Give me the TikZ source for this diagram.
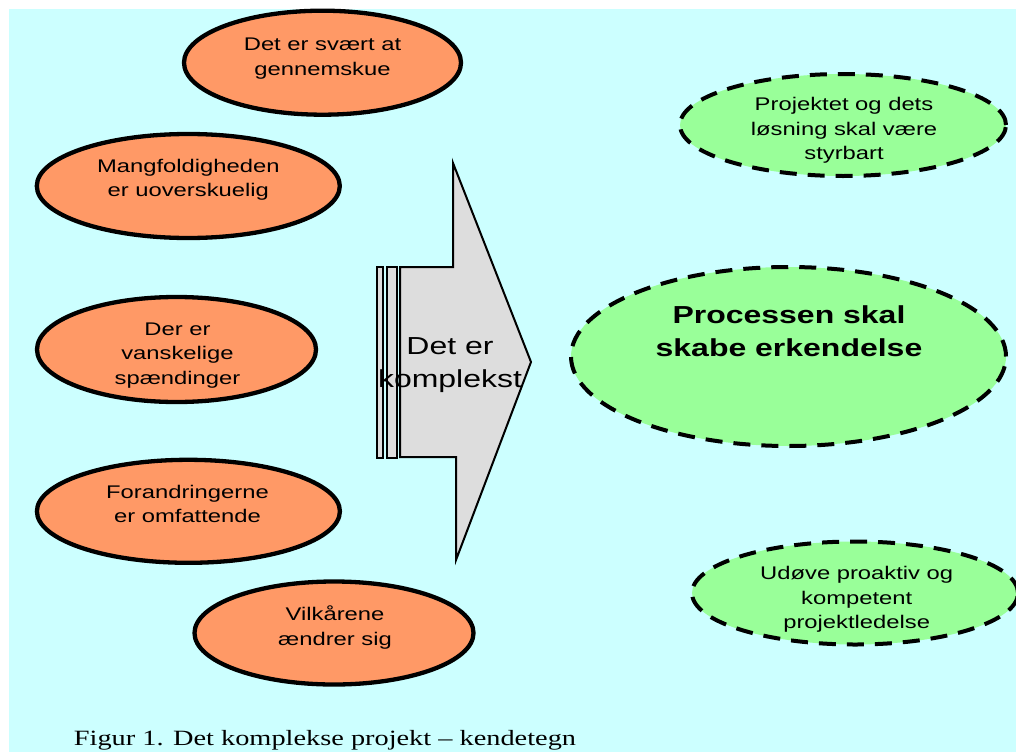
\documentclass[tikz,border=0pt]{standalone}
\usepackage{fontspec}
\setmainfont{Liberation Sans}[FakeStretch=1.3]
\newfontfamily\capfont{Liberation Serif}[FakeStretch=1.3]
\usetikzlibrary{shapes.geometric}
\definecolor{bgcyan}{HTML}{CCFFFF}
\definecolor{orngfill}{HTML}{FF9966}
\definecolor{grnfill}{HTML}{99FF99}
\definecolor{arrgray}{HTML}{DDDDDD}
\tikzset{
  orng/.style={ellipse, draw=black, line width=4.3pt, fill=orngfill, inner sep=0pt},
  grn/.style={ellipse, draw=black, line width=4pt, dash pattern=on 17pt off 11pt, fill=grnfill, inner sep=0pt},
  txt/.style={align=center, anchor=base, font=\fontsize{18.3}{24.2}\selectfont},
  bigtxt/.style={align=center, anchor=base, font=\fontsize{24.6}{32.5}\selectfont},
  arrowline/.style={draw=black, line width=2pt, fill=arrgray},
}
\begin{document}
\begin{tikzpicture}[x=1pt, y=-1pt]
            \useasboundingbox (0,0) rectangle (1016,752);
            \fill[bgcyan] (9,9) rectangle (1016,752);

            \node[orng, minimum width=277, minimum height=104] (svaert) at (322.5,62.7) {};
            \node[txt] (svaertTxt) at (322.5,75) {Det er svært at\\gennemskue};
            \node[orng, minimum width=303, minimum height=104] (mangfold) at (188.3,186) {};
            \node[txt] (mangfoldTxt) at (188.3,196.7) {Mangfoldigheden\\er uoverskuelig};
            \node[orng, minimum width=279, minimum height=105] (spaend) at (176.5,349.5) {};
            \node[txt] (spaendTxt) at (177.5,384) {Der er\\vanskelige\\spændinger};
            \node[orng, minimum width=303, minimum height=103] (forand) at (188.4,511.3) {};
            \node[txt] (forandTxt) at (187.5,522.3) {Forandringerne\\er omfattende};
            \node[orng, minimum width=279, minimum height=103] (vilkaar) at (334,633) {};
            \node[txt] (vilkaarTxt) at (335,645) {Vilkårene\\ændrer sig};

            \draw[arrowline] (377,267) rectangle (383,458);
            \draw[arrowline] (387,267) rectangle (397,458);
            \draw[arrowline] (400,267) -- (453,267) -- (453,163) -- (531,362) -- (456,560) -- (456,457) -- (400,457) -- cycle;
            \node[bigtxt] (komplekst) at (450,387) {Det er\\komplekst};

            \node[grn, minimum width=326, minimum height=102] (styrbar) at (843,125) {};
            \node[txt] (styrbarTxt) at (844,159.3) {Projektet og dets\\løsning skal være\\styrbart};
            \node[grn, minimum width=435, minimum height=179] (erkend) at (788.5,356.5) {};
            \node[bigtxt, font=\bfseries\fontsize{24.6}{32.7}\selectfont] (erkendTxt) at (789,356) {Processen skal\\skabe erkendelse};
            \node[grn, minimum width=326, minimum height=103] (ledelse) at (855,593) {};
            \node[txt] (ledelseTxt) at (856.7,628.3) {Udøve proaktiv og\\kompetent\\projektledelse};

            \node[anchor=base, font=\capfont\fontsize{21.8}{24}\selectfont] (caption) at (325,745) {Figur 1. Det komplekse projekt – kendetegn};
        \end{tikzpicture}
\end{document}
